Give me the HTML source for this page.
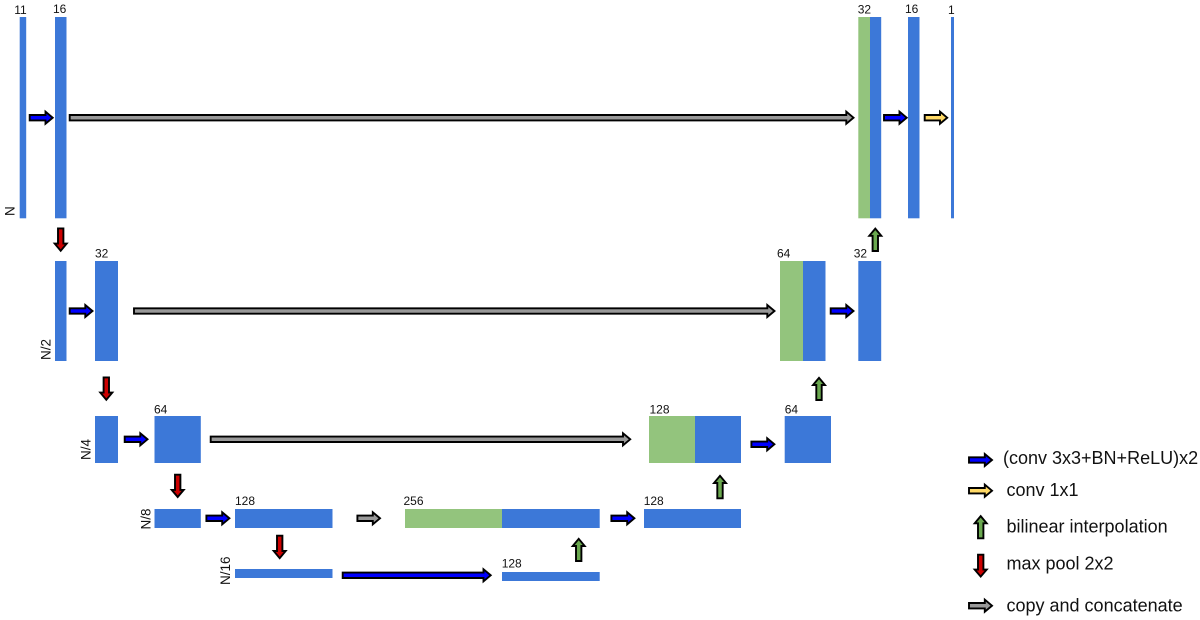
<!DOCTYPE html>
<html><head><meta charset="utf-8"><style>
html,body{margin:0;padding:0;background:#fff}
svg{display:block}
text{font-family:"Liberation Sans",Arial,sans-serif;fill:#111}
.s{font-size:12px}
.r{font-size:13.5px}
.l{font-size:18px}
.b{fill:#3c78d8}
.g{fill:#93c47d}
polygon{stroke:#000;stroke-width:1.9;stroke-linejoin:miter}
</style></head><body>
<svg width="1200" height="620" viewBox="0 0 1200 620" xmlns="http://www.w3.org/2000/svg">
<rect width="1200" height="620" fill="#fff"/>
<!-- level 1 -->
<rect class="b" x="19.7" y="17" width="6.5" height="201.3"/>
<rect class="b" x="55" y="17" width="11.5" height="201.3"/>
<rect class="g" x="858.3" y="17" width="11.7" height="201.3"/>
<rect class="b" x="870" y="17" width="11.2" height="201.3"/>
<rect class="b" x="908" y="17" width="11.5" height="201.3"/>
<rect class="b" x="951" y="17" width="3" height="201.3"/>
<!-- level 2 -->
<rect class="b" x="55" y="261" width="11.5" height="100"/>
<rect class="b" x="95" y="261" width="23" height="100"/>
<rect class="g" x="780" y="261" width="23" height="100"/>
<rect class="b" x="803" y="261" width="22.5" height="100"/>
<rect class="b" x="858.3" y="261" width="22.9" height="100"/>
<!-- level 3 -->
<rect class="b" x="95" y="416" width="23" height="47"/>
<rect class="b" x="154.5" y="416" width="46.3" height="47"/>
<rect class="g" x="649" y="416" width="46" height="47"/>
<rect class="b" x="695" y="416" width="46" height="47"/>
<rect class="b" x="784.7" y="416" width="46.3" height="47"/>
<!-- level 4 -->
<rect class="b" x="154.5" y="509" width="46.3" height="19"/>
<rect class="b" x="235" y="509" width="97.5" height="19"/>
<rect class="g" x="405" y="509" width="97" height="19"/>
<rect class="b" x="502" y="509" width="97.7" height="19"/>
<rect class="b" x="644" y="509" width="97" height="19"/>
<!-- level 5 -->
<rect class="b" x="235" y="569" width="97.5" height="9"/>
<rect class="b" x="502" y="572" width="97.7" height="9"/>

<!-- right arrows -->
<g fill="#0000ff">
<polygon points="29.7,115 45.5,115 45.5,111.7 52.7,117.7 45.5,123.7 45.5,120.4 29.7,120.4"/>
<polygon points="884,115 899.5,115 899.5,111.7 906.7,117.7 899.5,123.7 899.5,120.4 884,120.4"/>
<polygon points="69.7,308.3 85.3,308.3 85.3,305 92.5,311 85.3,317 85.3,313.7 69.7,313.7"/>
<polygon points="830.7,308.3 846.3,308.3 846.3,305 853.5,311 846.3,317 846.3,313.7 830.7,313.7"/>
<polygon points="124.7,436.6 140.3,436.6 140.3,433.3 147.5,439.3 140.3,445.3 140.3,442 124.7,442"/>
<polygon points="751.4,441.6 767.2,441.6 767.2,438.3 774.4,444.3 767.2,450.3 767.2,447 751.4,447"/>
<polygon points="206.4,515.6 222.2,515.6 222.2,512.3 229.4,518.3 222.2,524.3 222.2,521 206.4,521"/>
<polygon points="611.4,515.6 627.2,515.6 627.2,512.3 634.4,518.3 627.2,524.3 627.2,521 611.4,521"/>
<polygon points="342.7,572.6 483.5,572.6 483.5,569.3 490.7,575.3 483.5,581.3 483.5,578 342.7,578"/>
<polygon points="969,457.3 984.8,457.3 984.8,454 992,460 984.8,466 984.8,462.7 969,462.7"/>
</g>
<g fill="#999999">
<polygon points="69.7,115 846.3,115 846.3,111.7 853.5,117.7 846.3,123.7 846.3,120.4 69.7,120.4"/>
<polygon points="134,308.3 767.3,308.3 767.3,305 774.5,311 767.3,317 767.3,313.7 134,313.7"/>
<polygon points="210.7,436.6 623,436.6 623,433.3 630.2,439.3 623,445.3 623,442 210.7,442"/>
<polygon points="357.4,515.6 372.8,515.6 372.8,512.3 380,518.3 372.8,524.3 372.8,521 357.4,521"/>
<polygon points="969,603 984.8,603 984.8,599.7 992,605.7 984.8,611.7 984.8,608.4 969,608.4"/>
</g>
<g fill="#ffd966">
<polygon points="924.7,115 940,115 940,111.7 947.2,117.7 940,123.7 940,120.4 924.7,120.4"/>
<polygon points="969,488 984.8,488 984.8,484.7 992,490.7 984.8,496.7 984.8,493.4 969,493.4"/>
</g>
<!-- up arrows -->
<g fill="#6aa84f">
<polygon points="872.6,251 872.6,235.8 869.3,235.8 875.3,228.6 881.3,235.8 878,235.8 878,251"/>
<polygon points="816.3,400 816.3,385 813,385 819,377.8 825,385 821.7,385 821.7,400"/>
<polygon points="717.3,498.3 717.3,483 714,483 720,475.8 726,483 722.7,483 722.7,498.3"/>
<polygon points="576,561 576,546 572.7,546 578.7,538.8 584.7,546 581.4,546 581.4,561"/>
<polygon points="978,538.3 978,523.3 974.7,523.3 980.7,516.1 986.7,523.3 983.4,523.3 983.4,538.3"/>
</g>
<!-- down arrows -->
<g fill="#cc0000">
<polygon points="58,228.4 58,243.6 54.7,243.6 60.7,250.8 66.7,243.6 63.4,243.6 63.4,228.4"/>
<polygon points="103.6,377.4 103.6,392.6 100.3,392.6 106.3,399.8 112.3,392.6 109,392.6 109,377.4"/>
<polygon points="175,474.7 175,489.9 171.7,489.9 177.7,497 183.7,489.9 180.4,489.9 180.4,474.7"/>
<polygon points="277,535.7 277,551 273.7,551 279.7,558.2 285.7,551 282.4,551 282.4,535.7"/>
<polygon points="978,554.7 978,569.6 974.7,569.6 980.7,576.6 986.7,569.6 983.4,569.6 983.4,554.7"/>
</g>

<!-- size labels -->
<text class="s" x="14.2" y="14">11</text>
<text class="s" x="53" y="13">16</text>
<text class="s" x="857.7" y="13.5">32</text>
<text class="s" x="905" y="13">16</text>
<text class="s" x="948" y="14">1</text>
<text class="s" x="95" y="257.7">32</text>
<text class="s" x="777" y="257.7">64</text>
<text class="s" x="853.7" y="257.7">32</text>
<text class="s" x="154" y="413.3">64</text>
<text class="s" x="649.5" y="413.3">128</text>
<text class="s" x="784.7" y="413.3">64</text>
<text class="s" x="235" y="505">128</text>
<text class="s" x="403.5" y="505">256</text>
<text class="s" x="643.7" y="505">128</text>
<text class="s" x="501.7" y="567.3">128</text>

<!-- rotated labels -->
<text class="r" transform="translate(14.7,216) rotate(-90)">N</text>
<text class="r" transform="translate(50.7,360) rotate(-90)">N/2</text>
<text class="r" transform="translate(90.7,460) rotate(-90)">N/4</text>
<text class="r" transform="translate(150.7,529.5) rotate(-90)">N/8</text>
<text class="r" transform="translate(230,585) rotate(-90)">N/16</text>

<!-- legend -->
<text class="l" x="1003" y="464">(conv 3x3+BN+ReLU)x2</text>
<text class="l" x="1006.5" y="496">conv 1x1</text>
<text class="l" x="1006.5" y="532.7">bilinear interpolation</text>
<text class="l" x="1006.5" y="569.3">max pool 2x2</text>
<text class="l" x="1006.5" y="611.7">copy and concatenate</text>
</svg>
</body></html>
